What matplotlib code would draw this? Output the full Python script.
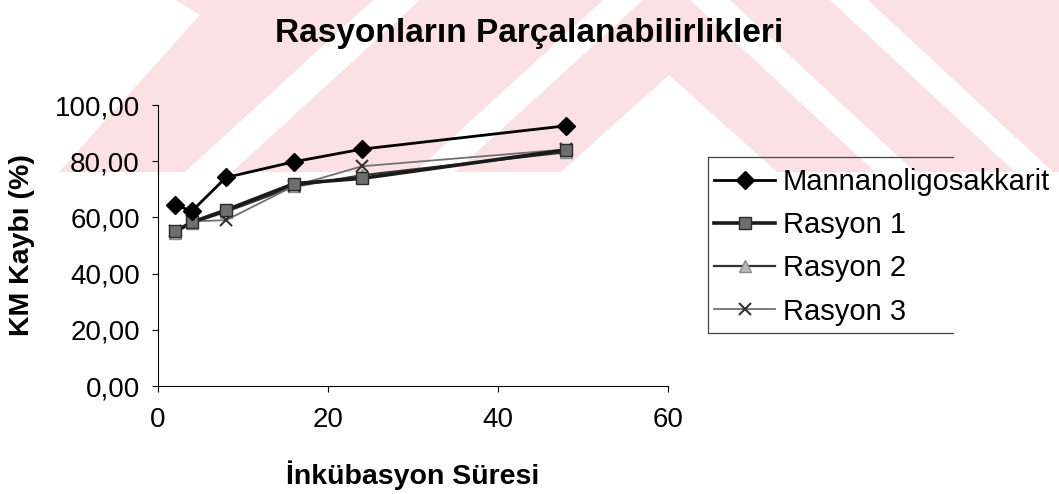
import matplotlib
matplotlib.use("Agg")
import matplotlib.pyplot as plt
from matplotlib.patches import Polygon
from matplotlib.lines import Line2D
from matplotlib.transforms import Affine2D
from matplotlib.ticker import FuncFormatter

plt.rcParams['font.family'] = ['Liberation Sans', 'DejaVu Sans']

# incubation time (h) and dry matter loss (%)
hours = [2, 4, 8, 16, 24, 48]
mannan = [64.4, 62.3, 74.2, 79.8, 84.3, 92.6]
rasyon1 = [55.0, 58.3, 62.6, 72.0, 73.9, 84.0]
rasyon2 = [54.6, 58.0, 62.0, 71.0, 75.0, 83.2]
rasyon3 = [55.2, 58.6, 59.0, 71.2, 78.2, 84.2]

labels = ["Mannanoligosakkarit", "Rasyon 1", "Rasyon 2", "Rasyon 3"]
x_ticks = [0, 20, 40, 60]
y_ticks = [0, 20, 40, 60, 80, 100]

W, H = 1059, 494
fig = plt.figure(figsize=(W / 100, H / 100), dpi=100)

# pale striped backdrop across the upper band (pixel coords, y down)
px = Affine2D().scale(1 / W, -1 / H).translate(0, 1) + fig.transFigure
pink = "#fbe0e4"
band = 172
fig.add_artist(Polygon([(0, 0), (W, 0), (W, band), (0, band)], closed=True,
                       transform=px, facecolor=pink, edgecolor="none", zorder=-2))
white_shapes = [
    [(0, 0), (176, 0), (200, 15), (59, band), (0, band)],
    [(185, band), (232, band), (420, 0), (373, 0)],
    [(415, band), (455, band), (643, 0), (603, 0)],
    [(669, 75), (777, band), (561, band)],
    [(690, 0), (730, 0), (915, band), (875, band)],
    [(830, 0), (868, 0), (1053, band), (1015, band)],
]
for pts in white_shapes:
    fig.add_artist(Polygon(pts, closed=True, transform=px, facecolor="white",
                           edgecolor="none", zorder=-1))

ax = fig.add_axes([158 / W, 1 - 386 / H, 510 / W, 281 / H])
ax.set_facecolor("none")

ax.plot(hours, mannan, color="black", lw=2, marker="D", ms=9,
        mfc="black", mec="black", label=labels[0], zorder=5)
ax.plot(hours, rasyon1, color="#1a1a1a", lw=2.6, marker="s", ms=8,
        mfc="#6e6e6e", mec="#2a2a2a", label=labels[1], zorder=4)
ax.plot(hours, rasyon2, color="#333333", lw=1.6, marker="^", ms=9,
        mfc="#b8b8b8", mec="#8a8a8a", label=labels[2], zorder=3)
ax.plot(hours, rasyon3, color="#707070", lw=1.3, marker="x", ms=9,
        mew=1.5, mec="#333333", label=labels[3], zorder=3)

ax.set_xlim(0, 60)
ax.set_ylim(0, 100)
ax.set_xticks(x_ticks)
ax.set_yticks(y_ticks)
ax.yaxis.set_major_formatter(FuncFormatter(lambda v, _: f"{v:.2f}".replace(".", ",")))
ax.tick_params(direction="out", length=4, width=0.8, labelsize=20)
ax.tick_params(axis="y", pad=9)
ax.tick_params(axis="x", pad=11)
for side in ("top", "right"):
    ax.spines[side].set_visible(False)
for side in ("left", "bottom"):
    ax.spines[side].set_linewidth(0.8)

ax.set_xlabel("İnkübasyon Süresi", fontsize=20.5, fontweight="bold", labelpad=20)
ax.set_ylabel("KM Kaybı (%)", fontsize=20.5, fontweight="bold", labelpad=14)

fig.text(0.5, 1 - 42 / H, "Rasyonların Parçalanabilirlikleri", ha="center",
         va="baseline", fontsize=24, fontweight="bold")

leg = ax.legend(loc="upper left", bbox_to_anchor=(714 / W, 1 - 168 / H),
                bbox_transform=fig.transFigure, fontsize=21, frameon=False,
                handlelength=2.1, handletextpad=0.25, labelspacing=0.52,
                borderpad=0, borderaxespad=0)

# open legend frame: top, left and bottom edges
frame_kw = dict(transform=px, color="#444444", lw=0.9)
fig.add_artist(Line2D([708, 953], [157, 157], **frame_kw))
fig.add_artist(Line2D([708, 708], [157, 333], **frame_kw))
fig.add_artist(Line2D([708, 953], [333, 333], **frame_kw))

fig.savefig("out.png", dpi=100)
